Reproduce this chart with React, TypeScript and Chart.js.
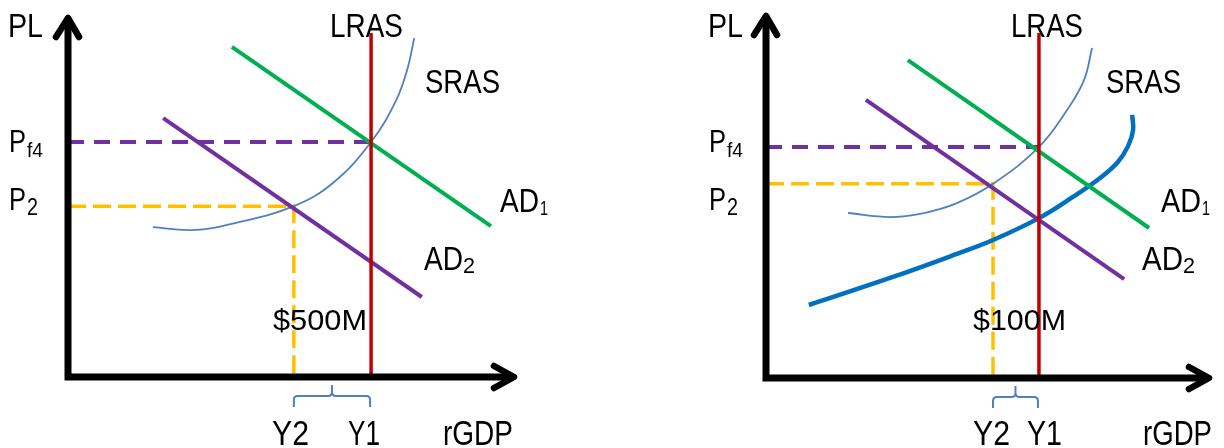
import React, { useEffect, useRef } from "react";
import { Chart, registerables } from "chart.js";

Chart.register(...registerables);

type Pt = [number, number];

// ---------- Left panel data (rGDP 0..100, PL 0..100) ----------
const leftLRAS = 67.5;
const leftLRASTop = 95;
const leftPf4 = 64.9;
const leftP2 = 47.2;
const leftY2 = 50.3;
const leftAD1: Pt[] = [[36.5, 91.2], [94.2, 41.7]];
const leftAD2: Pt[] = [[21.2, 71.5], [78.8, 22.1]];
const leftSRAS: Pt[] = [
  [18.9, 41.4], [27.6, 40.6], [37.2, 42.5], [50.3, 47.2], [59.0, 53.6],
  [67.5, 64.9], [73.1, 76.5], [75.7, 85.6], [77.1, 93.6],
];
const leftGap = "$500M";

// ---------- Right panel data ----------
const rightLRAS = 61.2;
const rightLRASTop = 94.5;
const rightPf4 = 63.3;
const rightP2 = 53.2;
const rightY2 = 50.9;
const rightAD1: Pt[] = [[31.8, 87.1], [85.9, 41.1]];
const rightAD2: Pt[] = [[22.4, 76.2], [80.3, 27.1]];
const rightSRAS: Pt[] = [
  [18.4, 45.2], [27.8, 44.1], [35.4, 45.2], [42.8, 47.9], [50.9, 53.2],
  [61.2, 63.3], [67.5, 73.4], [71.3, 81.6], [73.1, 90.4],
];
const rightSRAS2: Pt[] = [
  [9.6, 20.0], [27.8, 27.4], [42.8, 34.0], [50.9, 37.8], [61.2, 43.8],
  [68.8, 49.6], [74.9, 54.8], [78.9, 59.2], [81.2, 63.6], [82.3, 67.9], [82.1, 72.1],
];
const rightGap = "$100M";

// ---------- Text ----------
const axisY = "PL";
const axisX = "rGDP";
const lrasLabel = "LRAS";
const srasLabel = "SRAS";
const adBase = "AD";
const pBase = "P";
const pf4Sub = "f4";
const p2Sub = "2";
const y1Label = "Y1";
const y2Label = "Y2";

const GREEN = "#00B050";
const PURPLE = "#7030A0";
const RED = "#C00000";
const YELLOW = "#FFC000";
const THIN_BLUE = "#4F81BD";
const THICK_BLUE = "#0070C0";

const FONT = '"Liberation Sans", Arial, sans-serif';

type Label = { t: string; x: number; b: number; s: number; w: number };

function drawLabel(ctx: CanvasRenderingContext2D, l: Label) {
  ctx.save();
  ctx.font = `${l.s}px ${FONT}`;
  ctx.fillStyle = "#000";
  ctx.textBaseline = "alphabetic";
  ctx.textAlign = "left";
  const m = ctx.measureText(l.t).width;
  const sc = l.w / m;
  ctx.translate(l.x, l.b);
  ctx.scale(sc, 1);
  ctx.fillText(l.t, 0, 0);
  ctx.restore();
}

const toXY = (a: Pt[]) => a.map(([x, y]) => ({ x, y }));

function makeDatasets(p: {
  lras: number; lrasTop: number; pf4: number; p2: number; y2: number;
  ad1: Pt[]; ad2: Pt[]; sras: Pt[]; sras2?: Pt[];
}) {
  const ds: any[] = [
    {
      label: "Pf4",
      data: [{ x: 0, y: p.pf4 }, { x: p.lras, y: p.pf4 }],
      borderColor: PURPLE, borderWidth: 4, borderDash: [16, 10], order: 9, tension: 0,
    },
    {
      label: "P2",
      data: [{ x: 0, y: p.p2 }, { x: p.y2, y: p.p2 }, { x: p.y2, y: 0 }],
      borderColor: YELLOW, borderWidth: 3.5, borderDash: [18, 7], order: 8, tension: 0,
    },
    {
      label: "SRAS",
      data: toXY(p.sras),
      borderColor: THIN_BLUE, borderWidth: 1.8, tension: 0.4, order: 7,
    },
  ];
  if (p.sras2) {
    ds.push({
      label: "SRAS2",
      data: toXY(p.sras2),
      borderColor: THICK_BLUE, borderWidth: 4.5, tension: 0.4, order: 6,
    });
  }
  ds.push(
    { label: "AD1", data: toXY(p.ad1), borderColor: GREEN, borderWidth: 4, order: 5, tension: 0 },
    { label: "AD2", data: toXY(p.ad2), borderColor: PURPLE, borderWidth: 4, order: 4, tension: 0 },
    {
      label: "LRAS",
      data: [{ x: p.lras, y: 0 }, { x: p.lras, y: p.lrasTop }],
      borderColor: RED, borderWidth: 3.5, order: 3, tension: 0,
    }
  );
  return ds.map((d) => ({ ...d, pointRadius: 0, fill: false, clip: false }));
}

function makeChart(
  canvas: HTMLCanvasElement,
  padding: { left: number; right: number; top: number; bottom: number },
  datasets: any[],
  labels: Label[],
  y1: number,
  y2: number
) {
  const plugin = {
    id: "econ",
    afterDatasetsDraw(chart: any) {
      const ctx: CanvasRenderingContext2D = chart.ctx;
      const a = chart.chartArea;
      const xs = chart.scales.x;
      ctx.save();
      // axes
      ctx.strokeStyle = "#000";
      ctx.lineWidth = 7;
      ctx.lineCap = "butt";
      ctx.beginPath();
      ctx.moveTo(a.left, a.bottom + 3.5);
      ctx.lineTo(a.left, a.top + 5);
      ctx.moveTo(a.left - 3.5, a.bottom);
      ctx.lineTo(a.right - 5, a.bottom);
      ctx.stroke();
      ctx.lineCap = "round";
      ctx.lineJoin = "round";
      ctx.lineWidth = 6.5;
      ctx.beginPath();
      ctx.moveTo(a.left - 12, a.top + 22);
      ctx.lineTo(a.left, a.top + 3);
      ctx.lineTo(a.left + 11, a.top + 22);
      ctx.moveTo(a.right - 23, a.bottom - 11);
      ctx.lineTo(a.right - 3, a.bottom);
      ctx.lineTo(a.right - 23, a.bottom + 11);
      ctx.stroke();
      // brace
      const xa = xs.getPixelForValue(y2);
      const xb = xs.getPixelForValue(y1) - 1;
      const mid = (xa + xb) / 2;
      const top = a.bottom + 19;
      const end = a.bottom + 30;
      const tip = a.bottom + 8;
      const r = 4;
      ctx.strokeStyle = THIN_BLUE;
      ctx.lineWidth = 2;
      ctx.lineCap = "butt";
      ctx.beginPath();
      ctx.moveTo(xa, end);
      ctx.lineTo(xa, top + r);
      ctx.quadraticCurveTo(xa, top, xa + r, top);
      ctx.lineTo(mid - r, top);
      ctx.quadraticCurveTo(mid, top, mid, top - r);
      ctx.lineTo(mid, tip);
      ctx.moveTo(mid, top - r);
      ctx.quadraticCurveTo(mid, top, mid + r, top);
      ctx.lineTo(xb - r, top);
      ctx.quadraticCurveTo(xb, top, xb, top + r);
      ctx.lineTo(xb, end);
      ctx.stroke();
      ctx.restore();
      labels.forEach((l) => drawLabel(ctx, l));
    },
  };
  return new Chart(canvas, {
    type: "line",
    data: { datasets },
    options: {
      animation: false,
      responsive: false,
      devicePixelRatio: 1,
      layout: { padding },
      plugins: { legend: { display: false }, tooltip: { enabled: false } },
      events: [],
      scales: {
        x: { type: "linear", min: 0, max: 100, display: false },
        y: { type: "linear", min: 0, max: 100, display: false },
      },
    } as any,
    plugins: [plugin],
  });
}

function panelLabels(o: {
  pl: number; lras: number; lrasW: number; sras: number; pX: number;
  ad1: number; ad1W: number; ad2: number; ad2W: number; gap: string; gapX: number; gapW: number;
  y2: number; y2W: number; y1: number; y1W: number; rg: number; rgW: number;
}): Label[] {
  return [
    { t: axisY, x: o.pl, b: 37, s: 33, w: 35 },
    { t: lrasLabel, x: o.lras, b: 37, s: 33, w: o.lrasW },
    { t: srasLabel, x: o.sras, b: 93, s: 33, w: 75 },
    { t: pBase, x: o.pX, b: 152, s: 31, w: 17 },
    { t: pf4Sub, x: o.pX + 18, b: 157, s: 20, w: 16 },
    { t: pBase, x: o.pX, b: 210, s: 31, w: 17 },
    { t: p2Sub, x: o.pX + 18, b: 215, s: 23, w: 11 },
    { t: adBase, x: o.ad1, b: 212, s: 33, w: o.ad1W },
    { t: "1", x: o.ad1 + o.ad1W + 1, b: 215, s: 21, w: 8 },
    { t: adBase, x: o.ad2, b: 270, s: 33, w: o.ad2W },
    { t: p2Sub, x: o.ad2 + o.ad2W, b: 273, s: 22, w: 12 },
    { t: o.gap, x: o.gapX, b: 330, s: 30, w: o.gapW },
    { t: y2Label, x: o.y2, b: 445, s: 35, w: o.y2W },
    { t: y1Label, x: o.y1, b: 445, s: 35, w: o.y1W },
    { t: axisX, x: o.rg, b: 445, s: 35, w: o.rgW },
  ];
}

export default function App() {
  const leftRef = useRef<HTMLCanvasElement>(null);
  const rightRef = useRef<HTMLCanvasElement>(null);

  useEffect(() => {
    document.body.style.margin = "0";
    const c1 = makeChart(
      leftRef.current!,
      { left: 68, right: 612 - 517, top: 15, bottom: 448 - 377 },
      makeDatasets({
        lras: leftLRAS, lrasTop: leftLRASTop, pf4: leftPf4, p2: leftP2, y2: leftY2,
        ad1: leftAD1, ad2: leftAD2, sras: leftSRAS,
      }),
      panelLabels({
        pl: 8, lras: 330, lrasW: 73, sras: 425, pX: 9,
        ad1: 500, ad1W: 39, ad2: 424, ad2W: 39, gap: leftGap, gapX: 273, gapW: 94,
        y2: 272, y2W: 37, y1: 348, y1W: 32, rg: 443, rgW: 70,
      }),
      leftLRAS,
      leftY2
    );
    const c2 = makeChart(
      rightRef.current!,
      { left: 766 - 612, right: 1224 - 1212, top: 13, bottom: 448 - 378 },
      makeDatasets({
        lras: rightLRAS, lrasTop: rightLRASTop, pf4: rightPf4, p2: rightP2, y2: rightY2,
        ad1: rightAD1, ad2: rightAD2, sras: rightSRAS, sras2: rightSRAS2,
      }),
      panelLabels({
        pl: 96, lras: 399, lrasW: 72, sras: 494, pX: 97,
        ad1: 549, ad1W: 40, ad2: 530, ad2W: 41, gap: rightGap, gapX: 361, gapW: 93,
        y2: 361, y2W: 37, y1: 415, y1W: 35, rg: 531, rgW: 69,
      }),
      rightLRAS,
      rightY2
    );
    return () => {
      c1.destroy();
      c2.destroy();
    };
  }, []);

  return (
    <div style={{ position: "fixed", left: 0, top: 0, width: 1224, height: 448, background: "#fff" }}>
      <canvas ref={leftRef} width={612} height={448} style={{ position: "absolute", left: 0, top: 0, width: 612, height: 448 }} />
      <canvas ref={rightRef} width={612} height={448} style={{ position: "absolute", left: 612, top: 0, width: 612, height: 448 }} />
    </div>
  );
}
